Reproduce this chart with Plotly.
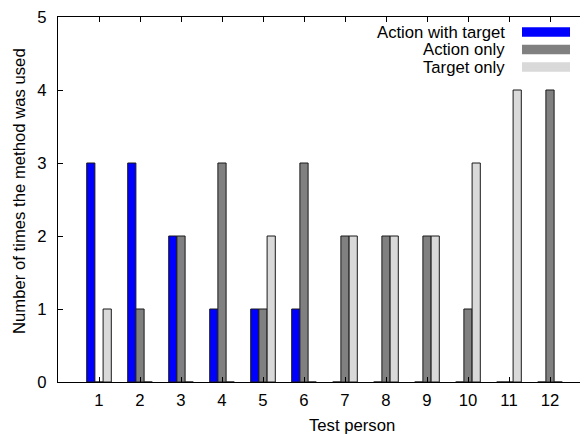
import plotly.graph_objects as go

persons = [str(i) for i in range(1, 13)]
series_names = ["Action with target", "Action only", "Target only"]
action_with_target = [3, 3, 2, 1, 1, 1, 0, 0, 0, 0, 0, 0]
action_only = [0, 1, 2, 3, 1, 3, 2, 2, 2, 1, 0, 4]
target_only = [1, 0, 0, 0, 2, 0, 2, 2, 2, 3, 4, 0]
colors = ["#0000FF", "#808080", "#D9D9D9"]
y_ticks = [0, 1, 2, 3, 4, 5]
x_title = "Test person"
y_title = "Number of times the method was used"

FONT = "Liberation Sans, Arial, sans-serif"
FS = 16.7

OFF = 8  # default page body margin
W, H = 588 - OFF, 434 - OFF
ML, MR, MT, MB = 58 - OFF, 0, 17 - OFF, 52
PW, PH = W - ML - MR, H - MT - MB
ABS_LEFT = ML + OFF
ABS_BOTTOM = MT + OFF + PH


def px_x(p):
    return (p - ABS_LEFT) / PW


def px_y(p):
    return (ABS_BOTTOM - p) / PH


xpos = list(range(1, 13))
fig = go.Figure()
for name, vals, col in zip(series_names, [action_with_target, action_only, target_only], colors):
    fig.add_trace(go.Bar(
        x=xpos, y=vals, name=name,
        marker=dict(color=col, line=dict(color="#1a1a1a", width=1)),
        showlegend=False,
    ))

# right-side inward ticks (mirror of y axis; border itself lies just outside the image)
fig.add_trace(go.Scatter(x=[None], y=[None], yaxis="y2", showlegend=False))

# custom legend: text right-aligned, swatch on the right
row_px = [32, 49.5, 67]
text_right_px = 507
sw_x0_px, sw_x1_px = 522, 570
sw_h = 9.4
for name, col, ry in zip(series_names, colors, row_px):
    yc = px_y(ry)
    fig.add_annotation(
        xref="paper", yref="paper", x=px_x(text_right_px), y=yc,
        xanchor="right", yanchor="middle", text=name, showarrow=False,
        font=dict(family=FONT, size=FS, color="#000"),
    )
    fig.add_shape(
        type="rect", xref="paper", yref="paper",
        x0=px_x(sw_x0_px), x1=px_x(sw_x1_px),
        y0=yc - sw_h / 2 / PH, y1=yc + sw_h / 2 / PH,
        fillcolor=col, line=dict(width=0),
    )

# axis titles
fig.add_annotation(
    xref="paper", yref="paper", x=px_x(352), y=px_y(425),
    xanchor="center", yanchor="middle", text=x_title, showarrow=False,
    font=dict(family=FONT, size=FS, color="#000"),
)
fig.add_annotation(
    xref="paper", yref="paper", x=px_x(19), y=px_y(191),
    xanchor="center", yanchor="middle", text=y_title, showarrow=False, textangle=-90,
    font=dict(family=FONT, size=FS, color="#000"),
)

x_max = PW / 41.0
fig.update_layout(
    width=W, height=H,
    margin=dict(l=ML, r=MR, t=MT, b=MB, pad=0, autoexpand=False),
    paper_bgcolor="white", plot_bgcolor="white",
    barmode="group", bargap=0.4, bargroupgap=0,
    font=dict(family=FONT, size=FS, color="#000"),
    xaxis=dict(
        range=[0, x_max], tickmode="array", tickvals=xpos, ticktext=persons,
        ticks="inside", ticklen=5, tickcolor="#000", tickwidth=1,
        showline=True, linecolor="#000", linewidth=1.3, mirror="ticks",
        showgrid=False, zeroline=False, ticklabelstandoff=3, automargin=False,
        ticklabeloverflow="allow",
    ),
    yaxis=dict(
        range=[0, 5], tickmode="array", tickvals=y_ticks,
        ticks="inside", ticklen=5, tickcolor="#000", tickwidth=1,
        showline=True, linecolor="#000", linewidth=1.3,
        showgrid=False, zeroline=False, ticklabelstandoff=7, automargin=False,
        ticklabeloverflow="allow",
    ),
    yaxis2=dict(
        overlaying="y", side="right", range=[0, 5], tickmode="array", tickvals=y_ticks,
        ticks="inside", ticklen=4, tickcolor="#000", tickwidth=1,
        showline=False, showgrid=False, zeroline=False, showticklabels=False,
        automargin=False,
    ),
)

fig.write_html("out.html")
